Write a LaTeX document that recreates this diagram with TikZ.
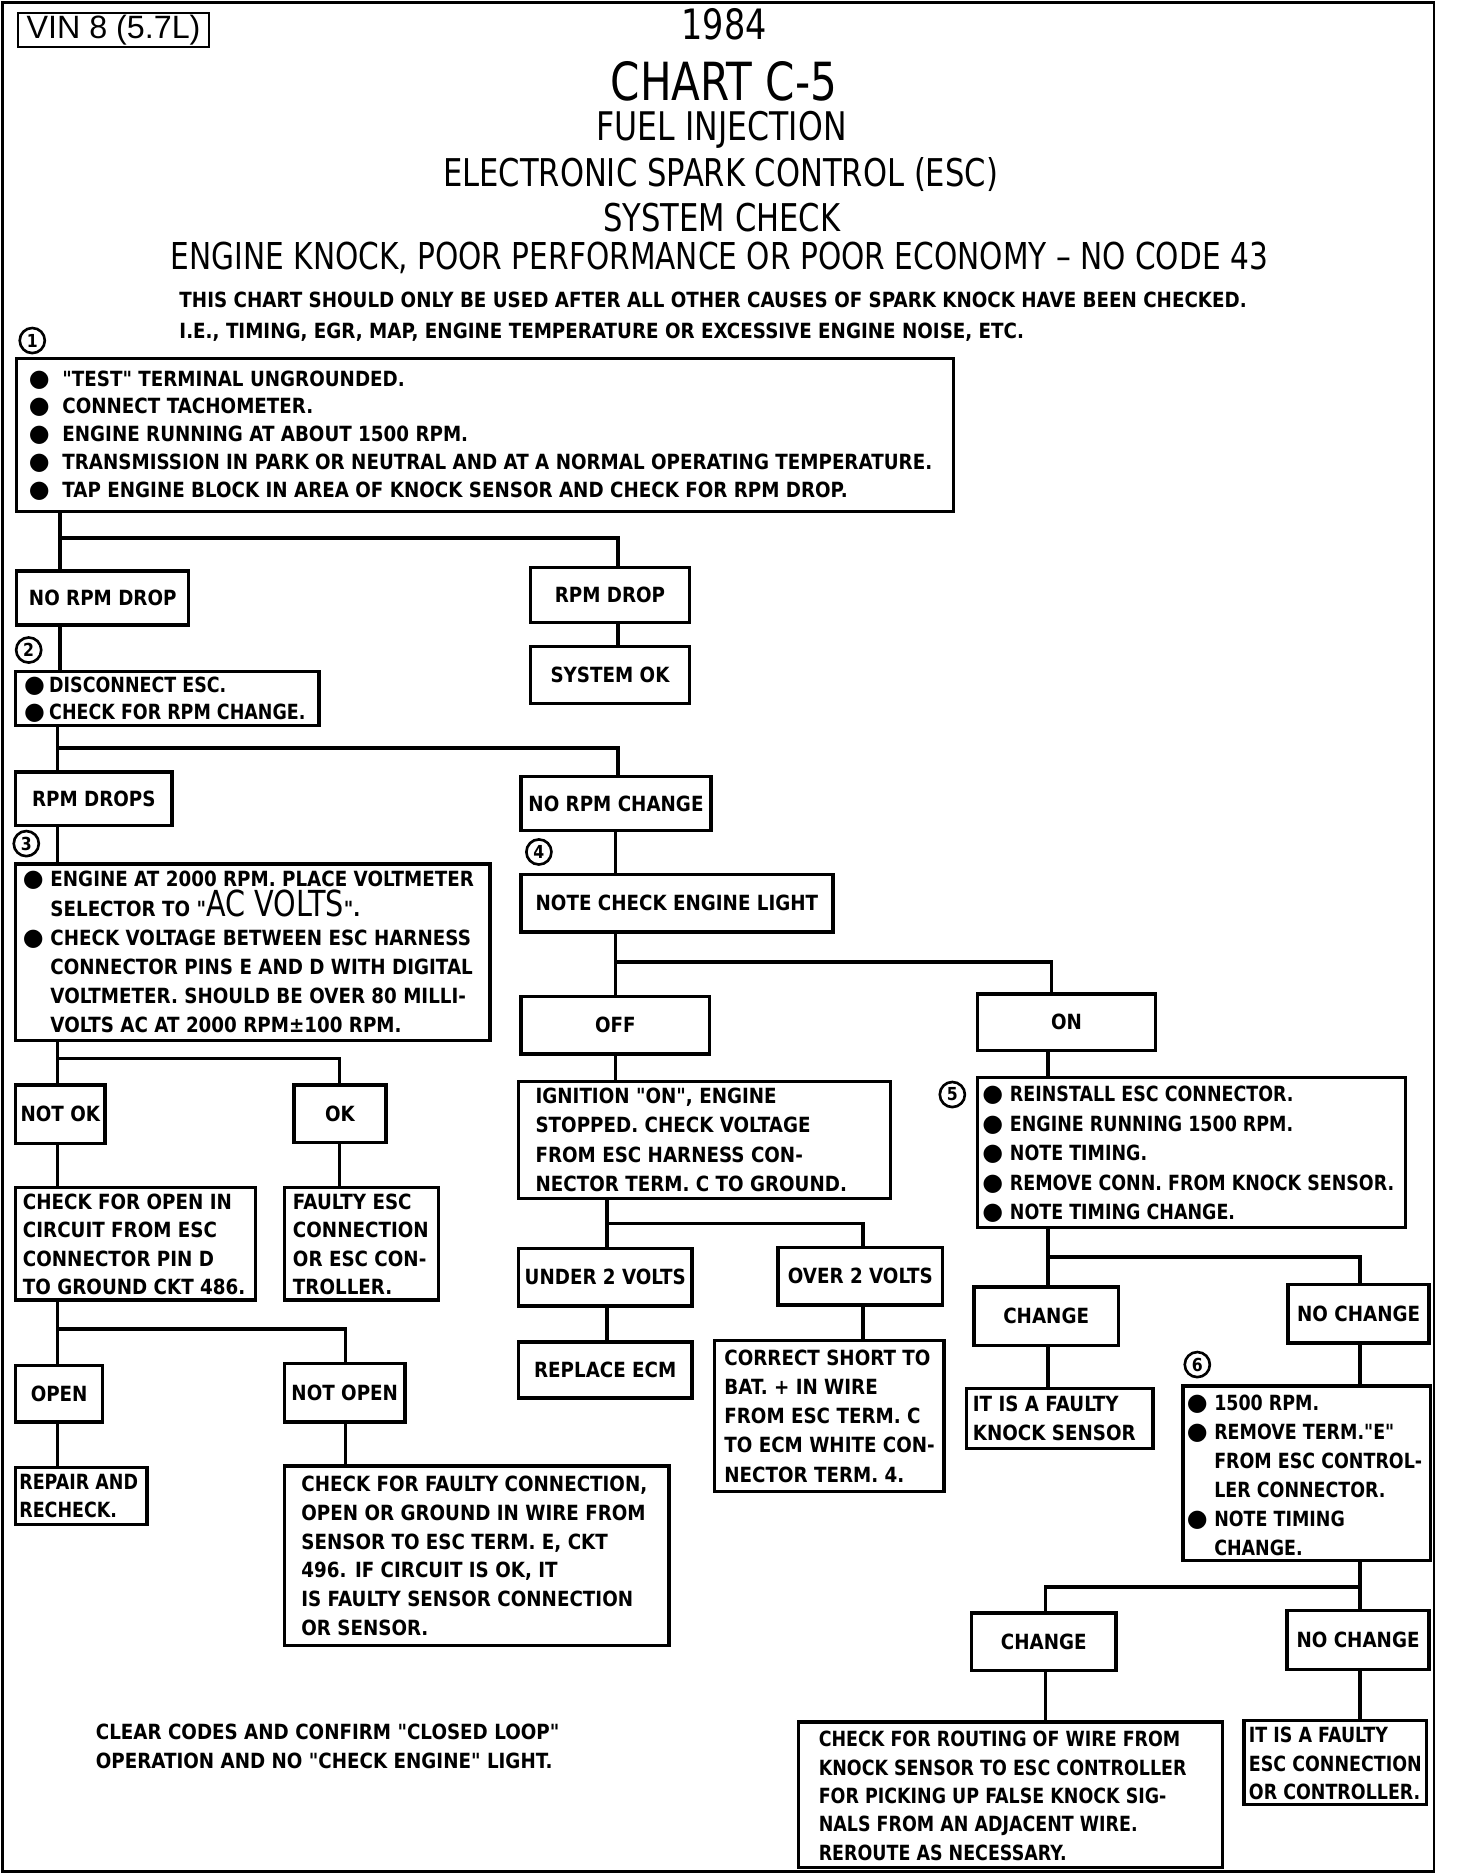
\documentclass[tikz,border=0pt]{standalone}
\usepackage{fontspec}
\newfontfamily\bodyfam[FakeStretch=0.875]{DejaVu Sans}
\newfontfamily\bodyn[FakeStretch=0.835]{DejaVu Sans}
\newfontfamily\titfam[FakeStretch=0.8]{DejaVu Sans}
\newfontfamily\vinfam{Liberation Sans}
\newfontfamily\symfam{DejaVu Sans}
\newcommand\bodyfont{\bodyfam\bfseries\fontsize{17.5}{24}\selectfont}
\newcommand\bul[1]{\makebox[#1][l]{\symfam\fontsize{20}{18}\selectfont ●}}
\newcommand\ind[1]{\hspace*{#1}}
\newcommand\bx[7][]{%
 \pgfmathsetmacro\bw{#5-#3}\pgfmathsetmacro\bh{#6-#4}%
 \pgfmathsetmacro\bcx{(#3+#5)/2}\pgfmathsetmacro\bcy{(#4+#6)/2}%
 \node[box,minimum width=\bw pt,minimum height=\bh pt,#1] (#2) at (\bcx,\bcy) {#7};}
\newcommand\tx[5][24]{\node[txt,font=\bodyfam\bfseries\fontsize{17.5}{#1}\selectfont] (#2) at (#3,#4) {#5};}
\newcommand\txn[5][24]{\node[txt,font=\bodyn\bfseries\fontsize{17.5}{#1}\selectfont] (#2) at (#3,#4) {#5};}
\begin{document}
\begin{tikzpicture}[x=1pt,y=-1pt,
  box/.style={draw,line width=2.8pt,inner sep=0pt,font=\bodyfont,align=center},
  txt/.style={anchor=west,align=left,inner sep=0pt},
  conn/.style={line width=3pt,line cap=rect,line join=miter},
  circ/.style={circle,draw,line width=2.2pt,minimum size=21pt,inner sep=0pt,font=\bodyfam\bfseries\fontsize{15}{15}\selectfont},
  tit/.style={inner sep=0pt,font=\titfam\fontsize{32}{32}\selectfont}]
\useasboundingbox (0,0) rectangle (1219,1570);
\fill[white] (0,0) rectangle (1219,1570);
\draw[line width=2.2pt] (2,2) rectangle (1200,1566);
% header
\node[draw,line width=1.6pt,inner sep=0pt,minimum width=160pt,minimum height=28pt,font=\vinfam\fontsize{27}{27}\selectfont] (vin) at (95,25) {VIN 8 (5.7L)};
\node[tit,font=\titfam\fontsize{35}{35}\selectfont] (yr) at (606,20) {1984};
\node[tit,font=\titfam\fontsize{44}{44}\selectfont] (chart) at (606,68) {CHART C-5};
\node[tit,font=\titfam\fontsize{33}{33}\selectfont] (fi) at (604,109) {FUEL INJECTION};
\node[tit] (esc) at (603,146) {ELECTRONIC SPARK CONTROL (ESC)};
\node[tit] (sc) at (604,182) {SYSTEM CHECK};
\node[tit,font=\titfam\fontsize{31}{31}\selectfont] (ek) at (602,216) {ENGINE KNOCK, POOR PERFORMANCE OR POOR ECONOMY – NO CODE 43};
\tx{note1}{150}{251}{THIS CHART SHOULD ONLY BE USED AFTER ALL OTHER CAUSES OF SPARK KNOCK HAVE BEEN CHECKED.}
\tx{note2}{150}{278}{I.E., TIMING, EGR, MAP, ENGINE TEMPERATURE OR EXCESSIVE ENGINE NOISE, ETC.}
% circled step numbers
\node[circ] (n1) at (27,285) {1};
\node[circ] (n2) at (24,544) {2};
\node[circ] (n3) at (22,706) {3};
\node[circ] (n4) at (451,713) {4};
\node[circ] (n5) at (797,916) {5};
\node[circ] (n6) at (1002,1142) {6};
% boxes
\bx{b1}{14}{300}{798}{428}{}
\tx[23.3]{b1t}{24}{364.5}{\bul{28pt}"TEST" TERMINAL UNGROUNDED.\\\bul{28pt}CONNECT TACHOMETER.\\\bul{28pt}ENGINE RUNNING AT ABOUT 1500 RPM.\\\bul{28pt}TRANSMISSION IN PARK OR NEUTRAL AND AT A NORMAL OPERATING TEMPERATURE.\\\bul{28pt}TAP ENGINE BLOCK IN AREA OF KNOCK SENSOR AND CHECK FOR RPM DROP.}
\bx{nrd}{14}{478}{158}{523}{NO RPM DROP}
\bx{rd}{444}{475}{577}{521}{RPM DROP}
\bx{sok}{444}{541}{577}{589}{SYSTEM OK}
\bx{b2}{13}{562}{267}{607}{}
\txn[23]{b2t}{20}{585.5}{\bul{21pt}DISCONNECT ESC.\\\bul{21pt}CHECK FOR RPM CHANGE.}
\bx{rds}{13}{646}{144}{691}{RPM DROPS}
\bx{nrc}{436}{650}{595}{695}{NO RPM CHANGE}
\bx{b3}{13}{723}{410}{871}{}
\tx[24.2]{b3t}{19}{796.5}{\bul{23pt}ENGINE AT 2000 RPM. PLACE VOLTMETER\\\ind{23pt}SELECTOR TO "{\titfam\mdseries\fontsize{30}{24}\selectfont AC VOLTS}".\\\bul{23pt}CHECK VOLTAGE BETWEEN ESC HARNESS\\\ind{23pt}CONNECTOR PINS E AND D WITH DIGITAL\\\ind{23pt}VOLTMETER. SHOULD BE OVER 80 MILLI-\\\ind{23pt}VOLTS AC AT 2000 RPM±100 RPM.}
\bx{nce}{436}{732}{697}{780}{NOTE CHECK ENGINE LIGHT}
\bx{off}{436}{834}{594}{882}{OFF}
\bx{on}{818}{832}{967}{879}{ON}
\bx{ign}{434}{905}{745}{1003}{}
\tx[24.7]{ignt}{448}{954}{IGNITION "ON", ENGINE\\STOPPED. CHECK VOLTAGE\\FROM ESC HARNESS CON-\\NECTOR TERM. C TO GROUND.}
\bx{b5}{818}{902}{1176}{1027}{}
\txn[24.7]{b5t}{822}{966}{\bul{23pt}REINSTALL ESC CONNECTOR.\\\bul{23pt}ENGINE RUNNING 1500 RPM.\\\bul{23pt}NOTE TIMING.\\\bul{23pt}REMOVE CONN. FROM KNOCK SENSOR.\\\bul{23pt}NOTE TIMING CHANGE.}
\bx{nok}{13}{908}{88}{957}{NOT OK}
\bx{ok}{246}{908}{323}{956}{OK}
\bx{cfo}{13}{994}{214}{1088}{}
\tx[23.7]{cfot}{19}{1041.5}{CHECK FOR OPEN IN\\CIRCUIT FROM ESC\\CONNECTOR PIN D\\TO GROUND CKT 486.}
\bx{fesc}{238}{994}{367}{1088}{}
\tx[23.7]{fesct}{245}{1041.5}{FAULTY ESC\\CONNECTION\\OR ESC CON-\\TROLLER.}
\bx{open}{13}{1143}{86}{1190}{OPEN}
\bx{nopen}{238}{1141}{339}{1190}{NOT OPEN}
\bx{rep}{13}{1228}{123}{1276}{}
\txn[24]{rept}{16}{1252}{REPAIR AND\\RECHECK.}
\bx{cff}{238}{1227}{560}{1377}{}
\tx[24]{cfft}{252}{1302}{CHECK FOR FAULTY CONNECTION,\\OPEN OR GROUND IN WIRE FROM\\SENSOR TO ESC TERM. E, CKT\\496. IF CIRCUIT IS OK, IT\\IS FAULTY SENSOR CONNECTION\\OR SENSOR.}
\bx{u2v}{434}{1045}{579}{1093}{UNDER 2 VOLTS}
\bx{o2v}{651}{1044}{789}{1092}{OVER 2 VOLTS}
\bx{recm}{434}{1123}{579}{1170}{REPLACE ECM}
\bx{cs}{598}{1122}{790}{1248}{}
\tx[24.5]{cst}{606}{1185}{CORRECT SHORT TO\\BAT. + IN WIRE\\FROM ESC TERM. C\\TO ECM WHITE CON-\\NECTOR TERM. 4.}
\bx{ch1}{815}{1077}{936}{1126}{CHANGE}
\bx{nch1}{1078}{1075}{1196}{1124}{NO CHANGE}
\bx{fks}{809}{1162}{965}{1212}{}
\tx[25]{fkst}{814}{1187}{IT IS A FAULTY\\KNOCK SENSOR}
\bx{b6}{990}{1160}{1197}{1306}{}
\txn[24.2]{b6t}{993}{1234.5}{\bul{23pt}1500 RPM.\\\bul{23pt}REMOVE TERM."E"\\\ind{23pt}FROM ESC CONTROL-\\\ind{23pt}LER CONNECTOR.\\\bul{23pt}NOTE TIMING\\\ind{23pt}CHANGE.}
\bx{ch2}{813}{1350}{934}{1398}{CHANGE}
\bx{nch2}{1077}{1348}{1196}{1397}{NO CHANGE}
\bx{cfr}{668}{1441}{1023}{1563}{}
\txn[23.75]{cfrt}{685}{1503}{CHECK FOR ROUTING OF WIRE FROM\\KNOCK SENSOR TO ESC CONTROLLER\\FOR PICKING UP FALSE KNOCK SIG-\\NALS FROM AN ADJACENT WIRE.\\REROUTE AS NECESSARY.}
\bx{fec}{1041}{1440}{1194}{1510}{}
\txn[24]{fect}{1045}{1476}{IT IS A FAULTY\\ESC CONNECTION\\OR CONTROLLER.}
\tx[25]{clr}{80}{1461.5}{CLEAR CODES AND CONFIRM "CLOSED LOOP"\\OPERATION AND NO "CHECK ENGINE" LIGHT.}
% junctions
\coordinate (j1) at (50,450); \coordinate (j1r) at (517,450);
\coordinate (j4) at (48,626); \coordinate (j4r) at (517,626);
\coordinate (j6) at (515,805); \coordinate (j6r) at (880,805);
\coordinate (j9) at (877,1052); \coordinate (j9r) at (1138,1052);
\coordinate (j10) at (48,886); \coordinate (j10r) at (284,886);
\coordinate (j12) at (48,1112); \coordinate (j12r) at (289,1112);
\coordinate (j14) at (508,1024); \coordinate (j14r) at (722,1024);
\coordinate (j18) at (1138,1328); \coordinate (j18l) at (875,1328);
% connectors
\draw[conn] (b1.south -| j1) -- (nrd.north -| j1);
\draw[conn] (j1) -- (j1r) -- (rd.north -| j1r);
\draw[conn] (nrd.south -| j1) -- (b2.north -| j1);
\draw[conn] (rd.south -| j1r) -- (sok.north -| j1r);
\draw[conn] (b2.south -| j4) -- (rds.north -| j4);
\draw[conn] (j4) -- (j4r) -- (nrc.north -| j4r);
\draw[conn] (rds.south -| j4) -- (b3.north -| j4);
\draw[conn] (nrc.south -| j6) -- (nce.north -| j6);
\draw[conn] (nce.south -| j6) -- (off.north -| j6);
\draw[conn] (j6) -- (j6r) -- (on.north -| j6r);
\draw[conn] (off.south -| j6) -- (ign.north -| j6);
\draw[conn] (on.south -| j9) -- (b5.north -| j9);
\draw[conn] (b5.south -| j9) -- (ch1.north -| j9);
\draw[conn] (j9) -- (j9r) -- (nch1.north -| j9r);
\draw[conn] (b3.south -| j10) -- (nok.north -| j10);
\draw[conn] (j10) -- (j10r) -- (ok.north -| j10r);
\draw[conn] (nok.south -| j10) -- (cfo.north -| j10);
\draw[conn] (ok.south -| j10r) -- (fesc.north -| j10r);
\draw[conn] (cfo.south -| j12) -- (open.north -| j12);
\draw[conn] (j12) -- (j12r) -- (nopen.north -| j12r);
\draw[conn] (open.south -| j12) -- (rep.north -| j12);
\draw[conn] (nopen.south -| j12r) -- (cff.north -| j12r);
\draw[conn] (ign.south -| j14) -- (u2v.north -| j14);
\draw[conn] (j14) -- (j14r) -- (o2v.north -| j14r);
\draw[conn] (u2v.south -| j14) -- (recm.north -| j14);
\draw[conn] (o2v.south -| j14r) -- (cs.north -| j14r);
\draw[conn] (ch1.south -| j9) -- (fks.north -| j9);
\draw[conn] (nch1.south -| j9r) -- (b6.north -| j9r);
\draw[conn] (b6.south -| j18) -- (nch2.north -| j18);
\draw[conn] (j18) -- (j18l) -- (ch2.north -| j18l);
\draw[conn] (ch2.south -| j18l) -- (cfr.north -| j18l);
\draw[conn] (nch2.south -| j18) -- (fec.north -| j18);
\end{tikzpicture}
\end{document}
